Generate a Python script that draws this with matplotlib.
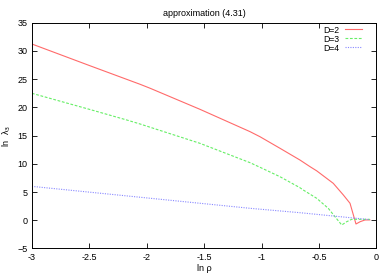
import matplotlib
matplotlib.use("Agg")
import matplotlib.pyplot as plt

plt.rcParams['font.family'] = ['Liberation Sans', 'DejaVu Sans']

# D=2 (red, solid)
x_d2 = [-3.0, -2.5, -2.058, -1.971, -1.536, -1.1, -1.013, -0.839, -0.665, -0.578, -0.519,
        -0.375, -0.287, -0.229, -0.177, -0.14, -0.099, -0.056]
y_d2 = [31.24, 27.43, 24.1, 23.4, 19.66, 15.7, 14.8, 12.75, 10.67, 9.5, 8.75,
        6.54, 4.47, 3.0, -0.67, -0.26, 0.04, 0.05]

# D=3 (green, dashed)
x_d3 = [-3.0, -2.5, -2.174, -2.058, -1.536, -1.1, -1.013, -0.839, -0.665, -0.636, -0.519,
        -0.418, -0.36, -0.301, -0.258, -0.214, -0.056]
y_d3 = [22.5, 19.66, 17.77, 17.06, 13.63, 10.2, 9.38, 7.71, 5.76, 5.35, 3.88,
        2.1, 0.62, -0.85, -0.27, 0.16, 0.15]

# D=4 (blue, dotted)
x_d4 = [-3.0, -1.1, -0.665, -0.056]
y_d4 = [6.0, 2.11, 1.33, 0.1]

xticks = [-3, -2.5, -2, -1.5, -1, -0.5, 0]
xtick_labels = ['-3', '-2.5', '-2', '-1.5', '-1', '-0.5', '0']
yticks = [-5, 0, 5, 10, 15, 20, 25, 30, 35]

fig = plt.figure(figsize=(3.89, 2.73), dpi=100)
left, right, top, bottom = 31.9, 376.3, 22.8, 248.4
ax = fig.add_axes([left/389, 1-bottom/273, (right-left)/389, (bottom-top)/273])

ax.plot(x_d2, y_d2, color='#ff6a6a', lw=0.8, ls='-', label='D=2')
ax.plot(x_d3, y_d3, color='#66ee66', lw=0.8, ls=(0, (2.5, 1.5)), label='D=3')
ax.plot(x_d4, y_d4, color='#8888ff', lw=0.8, ls=(0, (1, 1.2)), label='D=4')

ax.set_xlim(-3, 0)
ax.set_ylim(-5, 35)
ax.set_xticks(xticks)
ax.set_xticklabels(xtick_labels)
ax.set_yticks(yticks)
ax.tick_params(direction='in', length=3.5, width=0.6, labelsize=6.5, top=True, right=True, pad=3)
for s in ax.spines.values():
    s.set_linewidth(0.7)

ax.set_title('approximation (4.31)', fontsize=6.5, pad=5)
ax.set_xlabel('ln ρ', fontsize=6.5, labelpad=2)
ax.set_ylabel('ln  λ$_3$', fontsize=6.5, labelpad=3)

leg = ax.legend(loc='upper right', bbox_to_anchor=(0.9585, 0.988), frameon=False,
                fontsize=6.2, markerfirst=False, handlelength=2.0, handletextpad=0.6,
                labelspacing=0.0, borderaxespad=0, borderpad=0)

fig.savefig('out.png', dpi=100)
